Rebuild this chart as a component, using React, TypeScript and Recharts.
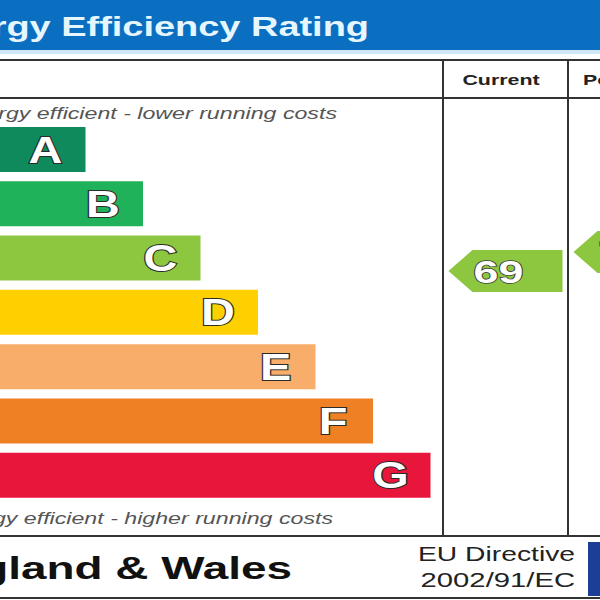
import React from "react";
import { Bar, BarChart, Cell, LabelList, Scatter, ScatterChart, XAxis, YAxis } from "recharts";

// rating bands, top (most efficient) to bottom
const bands = ["A", "B", "C", "D", "E", "F", "G"];
const bandLengths = [3, 4, 5, 6, 7, 8, 9];
const bandColors = ["#0f8a5c", "#1fb25a", "#8dc63f", "#ffd000", "#f9ad6a", "#ef8024", "#e8163b"];

// scores shown in the right-hand columns
const ratingColumns = ["Current", "Potential"];
const ratingScores = [69, 76];

const STRETCH = 1.38;

const bandData = bands.map((band, i) => ({ band, length: bandLengths[i], color: bandColors[i] }));
const ratingData = ratingColumns.map((column, i) => ({ column, score: ratingScores[i] }));

function colorForScore(score: number) {
  if (score >= 92) return bandColors[0];
  if (score >= 81) return bandColors[1];
  if (score >= 69) return bandColors[2];
  if (score >= 55) return bandColors[3];
  if (score >= 39) return bandColors[4];
  if (score >= 21) return bandColors[5];
  return bandColors[6];
}

function BandLetter(props: any) {
  const { x, y, width, height, value } = props;
  const cx = x + width - 40;
  const cy = y + height / 2 + 13;
  return (
    <text
      transform={`translate(${cx},${cy}) scale(1.3,1)`}
      textAnchor="middle"
      fontSize={36}
      fontWeight="bold"
      fill="#ffffff"
      stroke="#2b2b2b"
      strokeWidth={2}
      paintOrder="stroke"
    >
      {value}
    </text>
  );
}

function RatingArrow(props: any) {
  const { cx, cy, payload } = props;
  if (cx == null || cy == null) return null;
  const half = 21;
  const left = cx - 57;
  const right = cx + 57;
  const notch = left + 24;
  const pts = `${left},${cy} ${notch},${cy - half} ${right},${cy - half} ${right},${cy + half} ${notch},${cy + half}`;
  return (
    <g>
      <polygon points={pts} fill={colorForScore(payload.score)} />
      <text
        transform={`translate(${cx - 7},${cy + 11.5}) scale(1.4,1)`}
        textAnchor="middle"
        fontSize={32}
        fontWeight="bold"
        fill="#ffffff"
        stroke="#3a3a3a"
        strokeWidth={1.5}
        paintOrder="stroke"
      >
        {payload.score}
      </text>
    </g>
  );
}

function Stretched({ x, y, anchor, size, bold, italic, fill, children, sx = STRETCH }: any) {
  return (
    <text
      transform={`translate(${x},${y}) scale(${sx},1)`}
      textAnchor={anchor}
      fontSize={size}
      fontWeight={bold ? "bold" : "normal"}
      fontStyle={italic ? "italic" : "normal"}
      fill={fill}
    >
      {children}
    </text>
  );
}

export default function App() {
  const line = "#333333";
  return (
    <div
      style={{
        position: "fixed",
        left: 0,
        top: 0,
        width: 600,
        height: 600,
        overflow: "hidden",
        background: "#ffffff",
        fontFamily: "Arial, 'Liberation Sans', sans-serif"
      }}
    >
      <svg width={600} height={600} style={{ position: "absolute", left: 0, top: 0 }}>
        <rect x={0} y={0} width={600} height={50} fill="#0b6fc1" />
        <rect x={0} y={50} width={600} height={4} fill="#cfe6f7" />
        <Stretched x={369} y={36} anchor="end" size={27.5} bold fill="#e6f6ff" sx={1.38}>
          Energy Efficiency Rating
        </Stretched>

        <line x1={0} x2={600} y1={60} y2={60} stroke={line} strokeWidth={2} />
        <line x1={0} x2={600} y1={98} y2={98} stroke={line} strokeWidth={2} />
        <line x1={443} x2={443} y1={60} y2={536} stroke={line} strokeWidth={2} />
        <line x1={568} x2={568} y1={60} y2={536} stroke={line} strokeWidth={2} />
        <line x1={0} x2={600} y1={536} y2={536} stroke={line} strokeWidth={2} />
        <line x1={0} x2={600} y1={598} y2={598} stroke={line} strokeWidth={2} />

        <Stretched x={501} y={85} anchor="middle" size={15.5} bold fill="#222">
          Current
        </Stretched>
        <Stretched x={628} y={85} anchor="middle" size={15.5} bold fill="#222">
          Potential
        </Stretched>

        <Stretched x={337} y={119} anchor="end" size={16} italic fill="#555" sx={1.45}>
          Very energy efficient - lower running costs
        </Stretched>
        <Stretched x={333} y={524} anchor="end" size={16} italic fill="#555" sx={1.45}>
          Not energy efficient - higher running costs
        </Stretched>

        <Stretched x={292} y={579} anchor="end" size={31} bold fill="#111" sx={1.48}>
          England &amp; Wales
        </Stretched>
        <Stretched x={575} y={561} anchor="end" size={19.5} fill="#222" sx={1.45}>
          EU Directive
        </Stretched>
        <Stretched x={575} y={587} anchor="end" size={19.5} fill="#222" sx={1.5}>
          2002/91/EC
        </Stretched>
        <rect x={588} y={542} width={20} height={54} fill="#1c3f95" />
      </svg>

      <div style={{ position: "absolute", left: -87.5, top: 122.4 }}>
        <BarChart
          width={575}
          height={380}
          layout="vertical"
          data={bandData}
          margin={{ top: 0, right: 0, bottom: 0, left: 0 }}
          barSize={45}
        >
          <XAxis type="number" domain={[0, 10]} hide />
          <YAxis type="category" dataKey="band" hide />
          <Bar dataKey="length" isAnimationActive={false}>
            {bandData.map((d) => (
              <Cell key={d.band} fill={d.color} />
            ))}
            <LabelList dataKey="band" content={BandLetter} />
          </Bar>
        </BarChart>
      </div>

      <div style={{ position: "absolute", left: 443, top: 187 }}>
        <ScatterChart width={250} height={271} margin={{ top: 0, right: 0, bottom: 0, left: 0 }}>
          <XAxis type="category" dataKey="column" hide />
          <YAxis type="number" dataKey="score" domain={[0, 100]} hide />
          <Scatter data={ratingData} isAnimationActive={false} shape={RatingArrow} />
        </ScatterChart>
      </div>
    </div>
  );
}
